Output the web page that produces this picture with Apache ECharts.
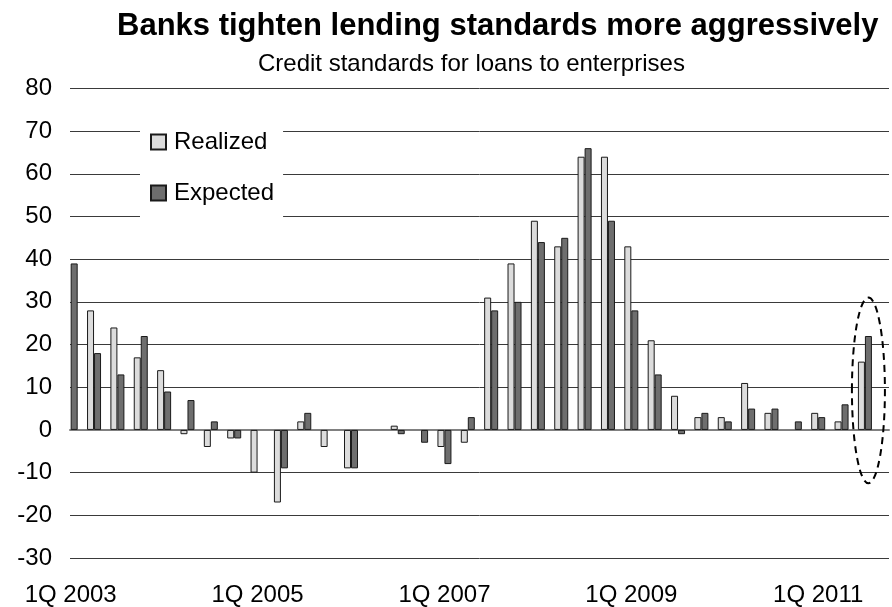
<!DOCTYPE html>
<html><head><meta charset="utf-8">
<script src="https://cdn.jsdelivr.net/npm/echarts@6/dist/echarts.min.js"></script>
<style>html,body{margin:0;padding:0;background:#fff}#c{width:892px;height:607px}</style>
</head><body><div id="c"></div>
<script>
const categories = ['1Q 2003','2Q 2003','3Q 2003','4Q 2003','1Q 2004','2Q 2004','3Q 2004','4Q 2004',
  '1Q 2005','2Q 2005','3Q 2005','4Q 2005','1Q 2006','2Q 2006','3Q 2006','4Q 2006',
  '1Q 2007','2Q 2007','3Q 2007','4Q 2007','1Q 2008','2Q 2008','3Q 2008','4Q 2008',
  '1Q 2009','2Q 2009','3Q 2009','4Q 2009','1Q 2010','2Q 2010','3Q 2010','4Q 2010',
  '1Q 2011','2Q 2011','3Q 2011'];
const realized = [null,28,24,17,14,-1,-4,-2,-10,-17,2,-4,-9,null,1,null,-4,-3,31,39,49,43,64,64,43,21,8,3,3,11,4,null,4,2,16];
const expected = [39,18,13,22,9,7,2,-2,null,-9,4,null,-9,null,-1,-3,-8,3,28,30,44,45,66,49,28,13,-1,4,2,5,5,2,3,6,22];
const yMin = -30, yMax = 80, yStep = 10;
const seriesNames = ['Realized','Expected'];
const titleText = 'Banks tighten lending standards more aggressively';
const subtitleText = 'Credit standards for loans to enterprises';

const FONT = "'Liberation Sans', Arial, Helvetica, sans-serif";
const chart = echarts.init(document.getElementById('c'), null, {renderer:'canvas'});
const option = {
  animation:false,
  backgroundColor:'#fff',
  title:[
    {text:titleText, left:117, top:11, padding:0,
     textStyle:{fontFamily:FONT,fontSize:31,fontWeight:'bold',color:'#000'}},
    {text:subtitleText, left:258, top:52, padding:0,
     textStyle:{fontFamily:FONT,fontSize:24,fontWeight:'normal',color:'#000'}}
  ],
  legend:{
    data:seriesNames, orient:'vertical', left:140, top:105, padding:[25,9,18,10],
    itemWidth:15, itemHeight:15, itemGap:27, icon:'rect', selectedMode:false,
    backgroundColor:'#fff', z:5,
    textStyle:{fontFamily:FONT,fontSize:24,color:'#000',padding:[0,0,0,3]}
  },
  grid:[
    {left:59, right:15.4, top:88.4, bottom:49},
    {left:70, right:3, top:88.4, bottom:49}
  ],
  xAxis:[
    {type:'category', gridIndex:0, data:categories,
     axisLine:{show:false}, axisTick:{show:false}, splitLine:{show:false},
     axisLabel:{interval:7, margin:25, fontFamily:FONT, fontSize:24, color:'#000'}},
    {type:'category', gridIndex:1, data:categories,
     axisLine:{show:true, onZero:true, lineStyle:{color:'#808080', width:2}},
     axisTick:{show:false}, axisLabel:{show:false}, splitLine:{show:false}}
  ],
  yAxis:[
    {type:'value', gridIndex:0, min:yMin, max:yMax, interval:yStep, show:false, splitLine:{show:false}},
    {type:'value', gridIndex:1, min:yMin, max:yMax, interval:yStep,
     axisLine:{show:false}, axisTick:{show:false},
     axisLabel:{margin:18, fontFamily:FONT, fontSize:24, color:'#000'},
     splitLine:{show:true, lineStyle:{color:'#3a3a3a', width:1}}}
  ],
  series:[
    {name:seriesNames[0], type:'bar', xAxisIndex:0, yAxisIndex:0, data:realized,
     barWidth:7, barGap:'0%', z:3,
     itemStyle:{color:'#dcdcdc', borderColor:'#1a1a1a', borderWidth:1}},
    {name:seriesNames[1], type:'bar', xAxisIndex:0, yAxisIndex:0, data:expected,
     barWidth:7, barGap:'0%', z:3,
     itemStyle:{color:'#6e6e6e', borderColor:'#1a1a1a', borderWidth:1}}
  ]
};
chart.setOption(option);

// dashed ellipse highlighting the latest quarter, positioned via the axes
const lastCat = categories[categories.length-1];
const pTop = chart.convertToPixel({xAxisIndex:0, yAxisIndex:0}, [lastCat, 31]);
const pBot = chart.convertToPixel({xAxisIndex:0, yAxisIndex:0}, [lastCat, -12.5]);
chart.setOption({
  graphic:[{
    type:'ellipse', z:10,
    shape:{cx:pTop[0]+3.5, cy:(pTop[1]+pBot[1])/2, rx:16.5, ry:(pBot[1]-pTop[1])/2},
    style:{fill:'none', stroke:'#000', lineWidth:2, lineDash:[7,5]}
  }]
});
</script>
</body></html>
